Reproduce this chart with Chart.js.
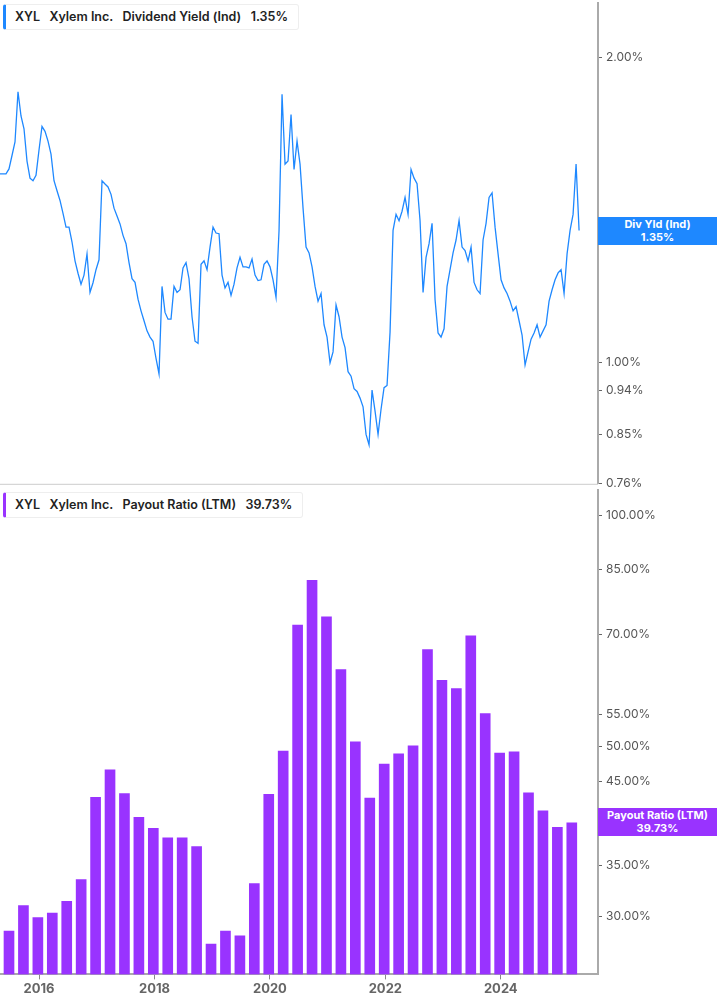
<!DOCTYPE html>
<html><head><meta charset="utf-8">
<script src="https://cdn.jsdelivr.net/npm/chart.js@4"></script>
<style>
body{margin:0;width:717px;height:1005px;position:relative;background:#fff;font-family:Inter,"Noto Sans",sans-serif;overflow:hidden}
canvas{position:absolute;left:0}
.leg{position:absolute;left:3px;height:24px;line-height:24px;padding:0 10px 0 9px;background:#fff;border:1px solid #eee;border-left:3px solid;border-radius:3px;font-size:12.5px;font-weight:600;color:#222;white-space:pre;z-index:5}
.tag{position:absolute;left:598px;width:119px;color:#fff;font-weight:700;font-size:11px;text-align:center;line-height:13px;padding:1px 0;z-index:5}
</style></head><body>
<div style="position:absolute;left:0;top:-8px;width:717px;height:503px"><canvas id="c1"></canvas></div>
<div style="position:absolute;left:0;top:479px;width:717px;height:526px"><canvas id="c2"></canvas></div>
<div class="leg" style="top:4px;border-left-color:#1e88ff">XYL   Xylem Inc.   Dividend Yield (Ind)   1.35%</div>
<div class="leg" style="top:492px;border-left-color:#9933ff">XYL   Xylem Inc.   Payout Ratio (LTM)   39.73%</div>
<div class="tag" style="top:217px;background:#1e88ff">Div Yld (Ind)<br>1.35%</div>
<div class="tag" style="top:808px;background:#9933ff">Payout Ratio (LTM)<br>39.73%</div>
<script>
const yieldStart = 2015.324;
const yieldStep = 0.05198;
const yieldValues = [
1.535,1.535,1.535,1.552,1.60,1.65,1.849,1.75,1.70,1.58,1.52,1.511,1.53,1.62,1.709,1.690,1.653,1.605,1.511,1.477,
1.445,1.403,1.360,1.36,1.315,1.26,1.225,1.195,1.22,1.28,1.173,1.199,1.235,1.263,1.511,1.50,1.49,1.465,1.42,1.395,
1.37,1.335,1.31,1.255,1.21,1.20,1.155,1.125,1.10,1.075,1.06,1.05,1.01,0.975,1.189,1.121,1.104,1.104,1.189,1.173,
1.18,1.24,1.255,1.21,1.11,1.05,1.045,1.25,1.26,1.235,1.30,1.36,1.342,1.34,1.22,1.185,1.20,1.165,1.195,1.24,
1.27,1.243,1.243,1.24,1.265,1.22,1.205,1.207,1.25,1.26,1.243,1.207,1.16,1.35,1.838,1.569,1.58,1.756,1.55,1.653,
1.569,1.42,1.30,1.283,1.243,1.189,1.15,1.17,1.09,1.06,1.00,1.025,1.14,1.11,1.06,1.035,0.98,0.97,0.943,0.937,
0.923,0.905,0.85,0.83,0.94,0.896,0.85,0.90,0.945,0.950,1.072,1.35,1.40,1.38,1.41,1.455,1.40,1.55,1.52,1.501,
1.38,1.173,1.27,1.31,1.372,1.154,1.07,1.06,1.08,1.189,1.235,1.283,1.321,1.381,1.30,1.29,1.26,1.30,1.20,1.18,
1.17,1.321,1.372,1.455,1.47,1.36,1.28,1.207,1.185,1.17,1.15,1.125,1.136,1.10,1.065,0.995,1.025,1.055,1.07,1.09,
1.06,1.075,1.09,1.15,1.18,1.207,1.226,1.235,1.17,1.28,1.35,1.40,1.569,1.35];
const barStart = 2015.48;
const barStep = 0.25;
const payoutValues = [28.7,31.0,29.9,30.3,31.4,33.5,42.9,46.6,43.4,40.4,39.1,38.0,38.0,37.0,27.6,28.7,28.3,33.1,43.3,49.3,
72.0,82.4,73.8,63.0,50.7,42.8,47.4,48.9,50.1,66.9,61.0,59.5,69.7,55.2,49.0,49.2,43.5,41.2,39.2,39.73];
const yieldTicks = [0.76,0.85,0.94,1.00,2.00];
const payoutTicks = [30,35,45,50,55,70,85,100];
const yearTicks = [2016,2018,2020,2022,2024];
const X_MIN = 2015.324, X_MAX = 2025.684;

const lineData = yieldValues.map((v,i)=>({x:yieldStart+i*yieldStep,y:v}));
const barData = payoutValues.map((v,i)=>({x:barStart+i*barStep,y:v}));

function yAxis(min,max,ticks){
  return {type:'logarithmic',position:'right',min,max,
    afterFit:s=>{s.width=119;},
    afterBuildTicks:s=>{s.ticks=ticks.map(v=>({value:v}));},
    border:{display:true,color:'#aaa',width:2},
    grid:{drawOnChartArea:false,drawTicks:true,tickLength:4,color:'#666'},
    ticks:{color:'#555',font:{size:12,family:'Inter'},padding:4,autoSkip:false,callback:v=>v.toFixed(2)+'%'}};
}
Chart.defaults.animation=false;
new Chart(document.getElementById('c1'),{type:'line',
  data:{datasets:[{data:lineData,borderColor:'#1e88ff',borderWidth:1.3,pointRadius:0,tension:0}]},
  options:{responsive:true,maintainAspectRatio:false,layout:{padding:{top:0,bottom:8,left:0,right:0}},
    plugins:{legend:{display:false},tooltip:{enabled:false}},
    scales:{x:{type:'linear',min:X_MIN,max:X_MAX,display:false},y:yAxis(0.76,2.26,yieldTicks)}},
  plugins:[{id:'sep',afterDraw(c){const g=c.ctx;g.save();g.strokeStyle='#ccc';g.lineWidth=1;g.beginPath();g.moveTo(0,c.chartArea.bottom+0.5);g.lineTo(598,c.chartArea.bottom+0.5);g.stroke();g.restore();}}]
});
new Chart(document.getElementById('c2'),{type:'bar',
  data:{datasets:[{data:barData,backgroundColor:'#9933ff',barThickness:10}]},
  options:{responsive:true,maintainAspectRatio:false,layout:{padding:{bottom:6}},
    plugins:{legend:{display:false},tooltip:{enabled:false}},
    scales:{x:{type:'linear',offset:false,min:X_MIN,max:X_MAX,
      afterBuildTicks:s=>{s.ticks=yearTicks.map(v=>({value:v}));},
      border:{display:true,color:'#aaa',width:2},
      grid:{offset:false,drawOnChartArea:false,tickLength:5,color:'#888'},
      ticks:{color:'#666',font:{size:13,weight:'bold',family:'Inter'},padding:2,callback:v=>String(v)}},
      y:yAxis(25.2,108,payoutTicks)}}
});
</script></body></html>
